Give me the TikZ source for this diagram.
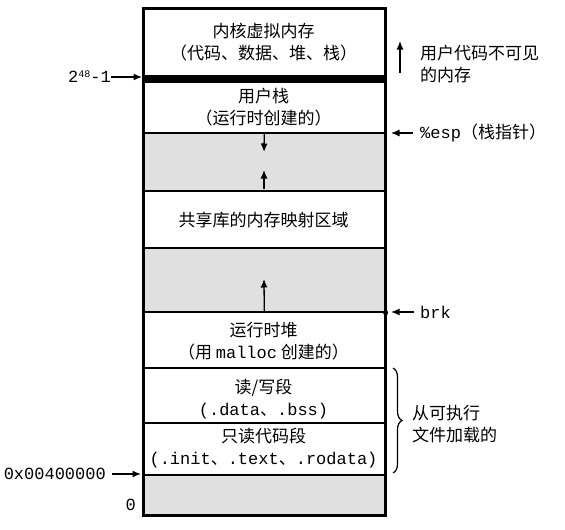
\documentclass[tikz,border=0pt]{standalone}
\usepackage{fontspec}
\newfontfamily\cjk{Noto Sans CJK SC}
\newfontfamily\mono{Liberation Mono}
\usetikzlibrary{arrows.meta,decorations.pathreplacing}
\begin{document}
\begin{tikzpicture}[x=1pt,y=-1pt,
  sec/.style={draw=black, line width=1.6pt, minimum width=241pt, inner sep=0pt, anchor=north west},
  shadesec/.style={sec, fill=black!12},
  txt/.style={font=\cjk\fontsize{17}{22}\selectfont, align=center, inner sep=0pt},
  sidetxt/.style={font=\cjk\fontsize{17}{22}\selectfont, align=left, inner sep=0pt, anchor=west},
  mtxt/.style={font=\mono\fontsize{17}{22}\selectfont, inner sep=0pt},
  arr/.style={line width=1.3pt, -{Latex[length=8.5pt,width=7pt]}},
]
\useasboundingbox (0,0) rectangle (565,530);
% sections
\node[sec, minimum height=67pt] (kernel) at (143,8) {};
\node[sec, fill=black, minimum height=6pt] (band) at (143,75) {};
\node[sec, minimum height=51pt] (ustack) at (143,81) {};
\node[shadesec, minimum height=58pt] (gap1) at (143,132) {};
\node[sec, minimum height=57pt] (shlib) at (143,190) {};
\node[shadesec, minimum height=64pt] (gap2) at (143,247) {};
\node[sec, minimum height=56pt] (heap) at (143,311) {};
\node[sec, minimum height=55pt] (rw) at (143,367) {};
\node[sec, minimum height=52pt] (ro) at (143,422) {};
\node[shadesec, minimum height=40pt] (gap3) at (143,474) {};
\draw[line width=2pt] (kernel.north west) rectangle (gap3.south east);
% section texts
\node[txt] (kt) at (263.5,42.5) {内核虚拟内存\\（代码、数据、堆、栈）};
\node[txt] (ut) at (263.5,107.5) {用户栈\\（运行时创建的）};
\node[txt] (st) at (263.5,220) {共享库的内存映射区域};
\node[txt] (ht) at (263.5,341.5) {运行时堆\\（用 {\mono malloc} 创建的）};
\node[txt] (rwt) at (263.5,399) {读/写段\\{\mono(.data}、{\mono.bss)}};
\node[txt] (rot) at (263.5,448.5) {只读代码段\\{\mono(.init}、{\mono.text}、{\mono.rodata)}};
% stack / heap arrows
\coordinate (g1c) at (264,152);
\draw[arr] (gap1.north) -- (g1c);
\coordinate (g1a) at (264,189);
\coordinate (g1b) at (264,170);
\draw[arr] (g1a) -- (g1b);
\coordinate (g2b) at (264,279);
\draw[arr] (gap2.south) -- (g2b);
% right labels
\coordinate (ua1) at (400,73);
\coordinate (ua2) at (400,41);
\draw[arr] (ua1) -- (ua2);
\node[sidetxt] (inv) at (420,64) {用户代码不可见\\的内存};
\node[sidetxt] (esp) at (420,133) {{\mono\%esp}（栈指针）};
\coordinate (espt) at (391,133);
\draw[arr] ([xshift=-7pt]esp.west) -- (espt);
\node[mtxt, anchor=west] (brk) at (420,312) {brk};
\coordinate (brkt) at (391,312);
\draw[arr] ([xshift=-6pt]brk.west) -- (brkt);
\fill (gap2.south east) circle (2.6pt);
\coordinate (br1) at (393,368);
\coordinate (br2) at (393,473);
\draw[line width=1.2pt, decorate, decoration={brace, amplitude=9pt}] (br1) -- (br2);
\node[sidetxt] (exe) at (412,424) {从可执行\\文件加载的};
% left labels
\node[mtxt, anchor=east] (top) at (111,77) {2\raisebox{0.55ex}{\fontsize{10}{10}\selectfont 48}-1};
\coordinate (topt) at (142,77);
\draw[arr] (top.east) -- (topt);
\node[mtxt, anchor=east] (addr) at (106,474) {0x00400000};
\coordinate (addrt) at (141,474);
\draw[arr] ([xshift=6pt]addr.east) -- (addrt);
\node[mtxt, anchor=east] (zero) at (136,505) {0};
\end{tikzpicture}
\end{document}
